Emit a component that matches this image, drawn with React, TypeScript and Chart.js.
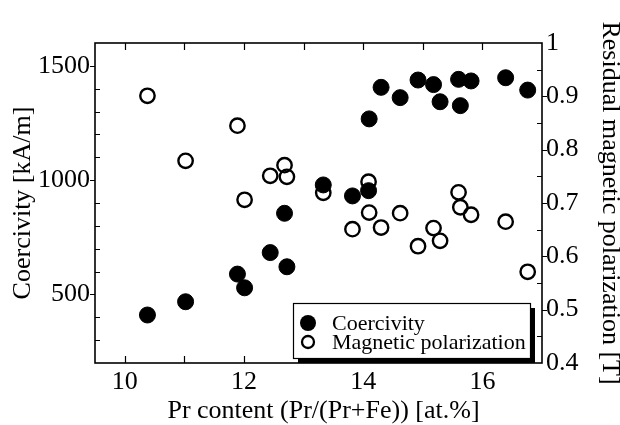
import React, { useEffect, useRef } from "react";
import { Chart, registerables } from "chart.js";

Chart.register(...registerables);

const prContent = [10.38, 11.02, 11.89, 12.01, 12.44, 12.68, 12.72, 13.33, 13.82, 14.09, 14.1, 14.3, 14.62, 14.92, 15.18, 15.29, 15.6, 15.63, 15.81, 16.39, 16.76];
const coercivity = [410, 468, 589, 529, 683, 855, 621, 979, 931, 954, 1268, 1406, 1361, 1438, 1418, 1343, 1441, 1326, 1434, 1448, 1394];
const polarization = [0.901, 0.779, 0.845, 0.706, 0.751, 0.771, 0.749, 0.719, 0.651, 0.74, 0.682, 0.654, 0.681, 0.619, 0.653, 0.629, 0.72, 0.692, 0.678, 0.665, 0.571];

const xRange = [9.5, 17];
const coercivityRange = [200, 1600];
const polarizationRange = [0.4, 1.0];
const seriesLabels = ["Coercivity", "Magnetic polarization"];
const xTitle = "Pr content (Pr/(Pr+Fe)) [at.%]";
const yTitle = "Coercivity [kA/m]";
const y2Title = "Residual magnetic polarization [T]";

const FONT = "'Liberation Serif', 'Times New Roman', serif";

const framePlugin = {
  id: "frameTicks",
  beforeDatasetsDraw(chart: any) {
    const { ctx, chartArea } = chart;
    const { left, right, top, bottom } = chartArea;
    const xs = chart.scales.x;
    const ys = chart.scales.y;
    const y2 = chart.scales.y2;
    ctx.save();
    ctx.strokeStyle = "#000";
    ctx.lineWidth = 1.2;
    ctx.beginPath();
    for (const t of xs.ticks) {
      const v = t.value;
      if (Math.abs(v - Math.round(v)) > 1e-6) continue;
      if (v <= xs.min || v >= xs.max) continue;
      const px = Math.round(xs.getPixelForValue(v)) + 0.5;
      ctx.moveTo(px, bottom);
      ctx.lineTo(px, bottom - 7);
      ctx.moveTo(px, top);
      ctx.lineTo(px, top + 7);
    }
    for (const t of ys.ticks) {
      const v = t.value;
      if (v <= ys.min || v >= ys.max) continue;
      const py = Math.round(ys.getPixelForValue(v)) + 0.5;
      const major = Math.round(v) % 500 === 0;
      ctx.moveTo(left, py);
      ctx.lineTo(major ? left - 5 : left + 5, py);
    }
    for (const t of y2.ticks) {
      const v = t.value;
      if (v <= y2.min + 1e-6 || v >= y2.max - 1e-6) continue;
      const py = Math.round(y2.getPixelForValue(v)) + 0.5;
      const major = Math.round(v * 20) % 2 === 0;
      ctx.moveTo(right, py);
      ctx.lineTo(major ? right + 5 : right - 5, py);
    }
    ctx.stroke();
    ctx.lineWidth = 1.6;
    ctx.strokeRect(left, top, right - left, bottom - top);
    ctx.fillStyle = "#000";
    ctx.font = `26px ${FONT}`;
    ctx.textAlign = "center";
    ctx.textBaseline = "alphabetic";
    ctx.fillText(xTitle, (left + right) / 2 + 5, bottom + 55);
    ctx.restore();
  },
};

const legendPlugin = {
  id: "boxLegend",
  afterDraw(chart: any) {
    const { ctx, chartArea } = chart;
    const w = 237;
    const h = 55;
    const x = chartArea.right - 12 - w;
    const y = chartArea.bottom - 5 - h;
    ctx.save();
    ctx.fillStyle = "#000";
    ctx.fillRect(x + 5, y + 5, w, h);
    ctx.fillStyle = "#fff";
    ctx.fillRect(x, y, w, h);
    ctx.strokeStyle = "#000";
    ctx.lineWidth = 1.2;
    ctx.strokeRect(x + 0.5, y + 0.5, w, h);
    ctx.fillStyle = "#000";
    ctx.beginPath();
    ctx.arc(x + 15, y + 20, 8, 0, Math.PI * 2);
    ctx.fill();
    ctx.lineWidth = 2.3;
    ctx.beginPath();
    ctx.arc(x + 15, y + 39, 6, 0, Math.PI * 2);
    ctx.stroke();
    ctx.font = `22px ${FONT}`;
    ctx.textBaseline = "alphabetic";
    ctx.textAlign = "left";
    ctx.fillText(seriesLabels[0], x + 39, y + 27);
    ctx.fillText(seriesLabels[1], x + 39, y + 46);
    ctx.restore();
  },
};

export default function App() {
  const ref = useRef<HTMLCanvasElement | null>(null);
  useEffect(() => {
    document.body.style.margin = "0";
    const canvas = ref.current;
    if (!canvas) return;
    const chart = new Chart(canvas, {
      type: "scatter",
      data: {
        datasets: [
          {
            label: seriesLabels[0],
            data: prContent.map((x, i) => ({ x, y: coercivity[i] })),
            yAxisID: "y",
            pointRadius: 8,
            pointHoverRadius: 8,
            backgroundColor: "#000",
            borderColor: "#000",
            borderWidth: 1,
            clip: false,
          },
          {
            label: seriesLabels[1],
            data: prContent.map((x, i) => ({ x, y: polarization[i] })),
            yAxisID: "y2",
            pointRadius: 7.2,
            pointHoverRadius: 7.2,
            backgroundColor: "rgba(255,255,255,0)",
            borderColor: "#000",
            borderWidth: 2.4,
            clip: false,
          },
        ],
      },
      options: {
        animation: false,
        responsive: false,
        events: [],
        layout: { padding: { top: 43, left: 0, right: 0, bottom: 0 } },
        plugins: { legend: { display: false }, tooltip: { enabled: false } },
        scales: {
          x: {
            type: "linear",
            position: "bottom",
            min: xRange[0],
            max: xRange[1],
            grid: { display: false, drawTicks: false },
            border: { display: false },
            afterFit: (s: any) => {
              s.height = 62;
            },
            ticks: {
              stepSize: 1,
              includeBounds: false,
              autoSkip: false,
              maxRotation: 0,
              padding: 4,
              color: "#000",
              font: { family: FONT, size: 26 },
              callback: (v: any) => {
                const n = Number(v);
                return Math.abs(n - Math.round(n)) < 1e-6 && Math.round(n) % 2 === 0 && n < 17 ? String(Math.round(n)) : "";
              },
            },
            title: { display: false },
          },
          y: {
            type: "linear",
            position: "left",
            min: coercivityRange[0],
            max: coercivityRange[1],
            grid: { display: false, drawTicks: false },
            border: { display: false },
            afterFit: (s: any) => {
              s.width = 95;
            },
            ticks: {
              stepSize: 100,
              autoSkip: false,
              padding: 5,
              color: "#000",
              font: { family: FONT, size: 26 },
              callback: (v: any) => {
                const n = Math.round(Number(v));
                return n % 500 === 0 ? String(n) : "";
              },
            },
            title: {
              display: true,
              text: yTitle,
              color: "#000",
              font: { family: FONT, size: 26, lineHeight: 1 },
              padding: { top: 10, bottom: 0 },
            },
          },
          y2: {
            type: "linear",
            position: "right",
            min: polarizationRange[0],
            max: polarizationRange[1],
            grid: { display: false, drawTicks: false },
            border: { display: false },
            afterFit: (s: any) => {
              s.width = 78;
            },
            ticks: {
              stepSize: 0.05,
              autoSkip: false,
              padding: 4,
              color: "#000",
              font: { family: FONT, size: 26 },
              callback: (v: any) => {
                const n = Number(v);
                if (Math.round(n * 20) % 2 !== 0) return "";
                return String(Number(n.toFixed(1)));
              },
            },
            title: {
              display: true,
              text: y2Title,
              color: "#000",
              font: { family: FONT, size: 26, lineHeight: 1 },
              padding: { top: -3, bottom: 0 },
            },
          },
        },
      },
      plugins: [framePlugin, legendPlugin],
    } as any);
    return () => chart.destroy();
  }, []);
  return <canvas ref={ref} width={620} height={425} style={{ display: "block", width: 620, height: 425 }} />;
}
